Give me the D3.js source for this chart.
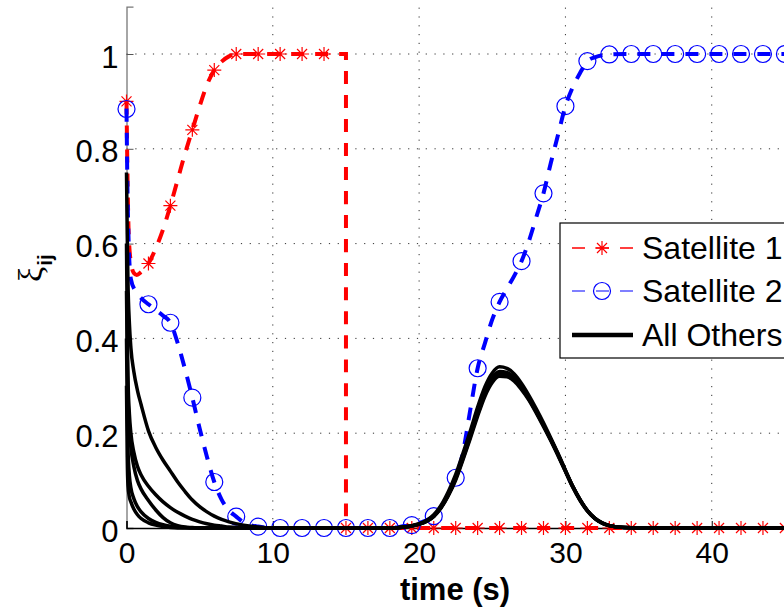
<!DOCTYPE html>
<html><head><meta charset="utf-8">
<script src="https://cdn.jsdelivr.net/npm/d3@7/dist/d3.min.js"></script>
<style>body{margin:0;background:#fff} svg{display:block;font-family:"Liberation Sans",Arial,sans-serif}</style>
</head><body><svg id="c" width="784" height="608"></svg>
<script>
// ---- data ----
const xTicks = [0, 10, 20, 30, 40];
const xTickLabels = ["0", "10", "20", "30", "40"];
const yTicks = [0, 0.2, 0.4, 0.6, 0.8, 1];
const yTickLabels = ["0", "0.2", "0.4", "0.6", "0.8", "1"];

const sat1T = [0, 0.05, 0.15, 0.3, 0.5, 0.7, 1, 1.5, 2, 2.5, 3, 3.5, 4, 4.5, 5, 5.5, 6, 6.5, 7, 7.5, 15, 15, 45];
const sat1V = [0.9, 0.78, 0.62, 0.56, 0.538, 0.534, 0.54, 0.558, 0.59, 0.63, 0.68, 0.735, 0.79, 0.84, 0.89, 0.935, 0.966, 0.984, 0.995, 1, 1, 0, 0];

const sat2T = [0, 0.05, 0.15, 0.3, 0.6, 1, 1.5, 2, 2.5, 3, 3.5, 4, 4.5, 5, 5.5, 6, 6.5, 7, 7.5, 8, 8.5, 9, 10, 18, 19, 19.5, 20, 20.5, 21, 21.5, 22, 22.5, 23, 23.5, 24, 24.5, 25, 25.5, 26, 26.5, 27, 27.5, 28, 28.5, 29, 29.5, 30, 30.5, 31, 31.5, 32, 33, 34, 45];
const sat2V = [0.885, 0.75, 0.6, 0.525, 0.5, 0.485, 0.472, 0.46, 0.448, 0.433, 0.39, 0.335, 0.275, 0.21, 0.15, 0.097, 0.06, 0.037, 0.024, 0.012, 0.006, 0.003, 0, 0, 0.004, 0.006, 0.01, 0.016, 0.025, 0.045, 0.072, 0.106, 0.16, 0.25, 0.337, 0.39, 0.44, 0.477, 0.505, 0.532, 0.563, 0.605, 0.655, 0.706, 0.77, 0.83, 0.89, 0.93, 0.96, 0.985, 0.993, 0.999, 1, 1];

const markerT = [0, 1.5, 3, 4.5, 6, 7.5, 9, 10.5, 12, 13.5, 15, 16.5, 18, 19.5, 21, 22.5, 24, 25.5, 27, 28.5, 30, 31.5, 33, 34.5, 36, 37.5, 39, 40.5, 42, 43.5, 45];
const sat1M = [0.9, 0.558, 0.68, 0.84, 0.966, 1, 1, 1, 1, 1, 0, 0, 0, 0, 0, 0, 0, 0, 0, 0, 0, 0, 0, 0, 0, 0, 0, 0, 0, 0, 0];
const sat2M = [0.884, 0.472, 0.433, 0.275, 0.097, 0.024, 0.003, 0, 0, 0, 0, 0, 0, 0.006, 0.025, 0.106, 0.337, 0.477, 0.563, 0.706, 0.89, 0.985, 0.999, 1, 1, 1, 1, 1, 1, 1, 1];

const othersT = [0, 0.05, 0.1, 0.2, 0.3, 0.5, 0.75, 1, 1.5, 2, 2.5, 3, 3.5, 4, 4.5, 5, 5.5, 6, 6.5, 7, 8, 9, 10, 18, 19, 20, 20.5, 21, 21.5, 22, 22.5, 23, 23.5, 24, 24.5, 25, 25.5, 26, 26.5, 27, 27.5, 28, 28.5, 29, 29.5, 30, 30.5, 31, 31.5, 32, 32.5, 33, 34, 35, 45];
const other1 = [0.75, 0.62, 0.52, 0.43, 0.38, 0.33, 0.29, 0.26, 0.205, 0.17, 0.143, 0.12, 0.097, 0.077, 0.059, 0.045, 0.034, 0.025, 0.018, 0.013, 0.006, 0.002, 0, 0, 0.002, 0.009, 0.016, 0.028, 0.048, 0.077, 0.113, 0.158, 0.205, 0.255, 0.298, 0.327, 0.34, 0.337, 0.325, 0.305, 0.28, 0.252, 0.222, 0.19, 0.157, 0.122, 0.088, 0.06, 0.037, 0.021, 0.011, 0.005, 0.001, 0, 0];
const other2 = [0.6, 0.42, 0.32, 0.24, 0.2, 0.16, 0.13, 0.112, 0.088, 0.07, 0.055, 0.043, 0.033, 0.025, 0.018, 0.013, 0.009, 0.006, 0.004, 0.002, 0.001, 0, 0, 0, 0.002, 0.008, 0.015, 0.026, 0.045, 0.073, 0.108, 0.152, 0.198, 0.246, 0.288, 0.317, 0.33, 0.328, 0.317, 0.298, 0.274, 0.247, 0.218, 0.187, 0.155, 0.121, 0.088, 0.06, 0.037, 0.021, 0.011, 0.005, 0.001, 0, 0];
const other3 = [0.5, 0.36, 0.28, 0.21, 0.17, 0.13, 0.1, 0.082, 0.058, 0.038, 0.022, 0.011, 0.005, 0.002, 0.001, 0, 0, 0, 0, 0, 0, 0, 0, 0, 0.002, 0.008, 0.014, 0.025, 0.043, 0.07, 0.104, 0.147, 0.193, 0.24, 0.282, 0.311, 0.324, 0.323, 0.313, 0.295, 0.272, 0.245, 0.216, 0.186, 0.154, 0.12, 0.087, 0.059, 0.036, 0.02, 0.01, 0.005, 0.001, 0, 0];
const other4 = [0.4, 0.25, 0.17, 0.11, 0.085, 0.062, 0.045, 0.034, 0.02, 0.012, 0.007, 0.004, 0.002, 0.001, 0, 0, 0, 0, 0, 0, 0, 0, 0, 0, 0.002, 0.008, 0.014, 0.024, 0.042, 0.068, 0.101, 0.144, 0.189, 0.236, 0.278, 0.307, 0.32, 0.319, 0.31, 0.292, 0.27, 0.243, 0.214, 0.184, 0.152, 0.119, 0.086, 0.058, 0.036, 0.02, 0.01, 0.005, 0.001, 0, 0];
const other5 = [0.3, 0.15, 0.09, 0.065, 0.055, 0.04, 0.028, 0.02, 0.011, 0.006, 0.003, 0.001, 0, 0, 0, 0, 0, 0, 0, 0, 0, 0, 0, 0, 0.002, 0.008, 0.015, 0.025, 0.044, 0.071, 0.106, 0.15, 0.196, 0.243, 0.285, 0.314, 0.327, 0.326, 0.315, 0.297, 0.273, 0.246, 0.217, 0.187, 0.155, 0.121, 0.088, 0.06, 0.037, 0.021, 0.011, 0.005, 0.001, 0, 0];
const others = [other1, other2, other3, other4, other5];

const legendLabels = ["Satellite 1", "Satellite 2", "All Others"];

// ---- chart ----
const svg = d3.select("#c");
const x = d3.scaleLinear().domain([0, 45]).range([126.5, 784.9]);
const y = d3.scaleLinear().domain([0, 1.1]).range([528, 6.6]);

// grid
const grid = svg.append("g").attr("stroke", "#333").attr("stroke-width", 1).attr("stroke-dasharray", "1.2,7.6");
grid.selectAll("line.h").data(yTicks.filter(d => d > 0)).join("line")
  .attr("x1", x(0)).attr("x2", 784).attr("y1", d => y(d)).attr("y2", d => y(d));
grid.selectAll("line.v").data(xTicks.filter(d => d > 0)).join("line")
  .attr("x1", d => x(d)).attr("x2", d => x(d)).attr("y1", y(0)).attr("y2", y(1.1));

// axes
const yAxis = svg.append("g").attr("transform", `translate(${x(0)},0)`)
  .call(d3.axisLeft(y).tickValues(yTicks).tickFormat((d, i) => yTickLabels[i]).tickSize(-7).tickPadding(8));
yAxis.select(".domain").attr("stroke", "#777").attr("stroke-width", 1.3);
yAxis.selectAll(".tick line").attr("stroke", "#555");
yAxis.selectAll("text").attr("font-size", 31).attr("dy", "0.42em").attr("fill", "#000");

const xAxis = svg.append("g").attr("transform", `translate(0,${y(0)})`)
  .call(d3.axisBottom(x).tickValues(xTicks).tickFormat((d, i) => xTickLabels[i]).tickSize(-7).tickPadding(14));
xAxis.select(".domain").attr("stroke", "#000").attr("stroke-width", 1.3);
xAxis.selectAll(".tick line").attr("stroke", "#000");
xAxis.selectAll("text").attr("font-size", 30).attr("fill", "#000");
svg.selectAll(".domain").attr("fill", "none");
svg.selectAll(".tick text").attr("font-family", "Liberation Sans, Arial, sans-serif");

// lines
const line = d3.line().x(d => x(d[0])).y(d => y(d[1])).curve(d3.curveMonotoneX);
const sat1Data = sat1T.map((t, i) => [t, sat1V[i]]);
const sat2Data = sat2T.map((t, i) => [t, sat2V[i]]);

svg.append("path").datum(sat1Data).attr("d", line).attr("fill", "none")
  .attr("stroke", "#ff0000").attr("stroke-width", 4).attr("stroke-dasharray", "13,11");
svg.append("path").datum(sat2Data).attr("d", line).attr("fill", "none")
  .attr("stroke", "#0000ff").attr("stroke-width", 4).attr("stroke-dasharray", "13,11");

function star(g, cx, cy) {
  const r = 7, d = 5;
  g.append("path").attr("d",
    `M${cx - r},${cy}H${cx + r}M${cx},${cy - r}V${cy + r}M${cx - d},${cy - d}L${cx + d},${cy + d}M${cx - d},${cy + d}L${cx + d},${cy - d}`)
    .attr("stroke", "#ff0000").attr("stroke-width", 1.2).attr("fill", "none");
}
const m1 = svg.append("g");
markerT.forEach((t, i) => star(m1, x(t), y(sat1M[i])));
svg.append("g").selectAll("circle").data(markerT).join("circle")
  .attr("cx", d => x(d)).attr("cy", (d, i) => y(sat2M[i])).attr("r", 8.5)
  .attr("fill", "none").attr("stroke", "#0000ff").attr("stroke-width", 1.2);

svg.append("g").selectAll("path").data(others).join("path")
  .attr("d", vals => line(othersT.map((t, i) => [t, vals[i]])))
  .attr("fill", "none").attr("stroke", "#000").attr("stroke-width", 3.5);

// labels
svg.append("text").attr("x", 455).attr("y", 600).attr("text-anchor", "middle")
  .attr("font-size", 31).attr("font-weight", "bold").text("time (s)");
const yl = svg.append("text").attr("transform", "translate(42,268) rotate(-90)").attr("text-anchor", "middle");
yl.append("tspan").attr("font-family", "Liberation Serif, DejaVu Serif, serif").attr("font-size", 34).text("ξ");
yl.append("tspan").attr("font-size", 21).attr("font-weight", "bold").attr("dy", 10).attr("dx", 1).text("ij");

// legend
const lg = svg.append("g");
lg.append("rect").attr("x", 560).attr("y", 223).attr("width", 260).attr("height", 135)
  .attr("fill", "#fff").attr("stroke", "#000").attr("stroke-width", 1.2);
const rowY = [248, 291, 335];
lg.append("line").attr("x1", 572).attr("x2", 633).attr("y1", rowY[0]).attr("y2", rowY[0])
  .attr("stroke", "#ff0000").attr("stroke-width", 1.3).attr("stroke-dasharray", "13,11");
star(lg, 602, rowY[0]);
lg.append("line").attr("x1", 572).attr("x2", 633).attr("y1", rowY[1]).attr("y2", rowY[1])
  .attr("stroke", "#5555ff").attr("stroke-width", 1.3).attr("stroke-dasharray", "13,11");
lg.append("circle").attr("cx", 602).attr("cy", rowY[1]).attr("r", 8.5).attr("fill", "none")
  .attr("stroke", "#0000ff").attr("stroke-width", 1.2);
lg.append("line").attr("x1", 572).attr("x2", 633).attr("y1", rowY[2]).attr("y2", rowY[2])
  .attr("stroke", "#000").attr("stroke-width", 4.5);
lg.selectAll("text").data(legendLabels).join("text")
  .attr("x", 642).attr("y", (d, i) => rowY[i] + 11).attr("font-size", 32).text(d => d);
</script></body></html>
